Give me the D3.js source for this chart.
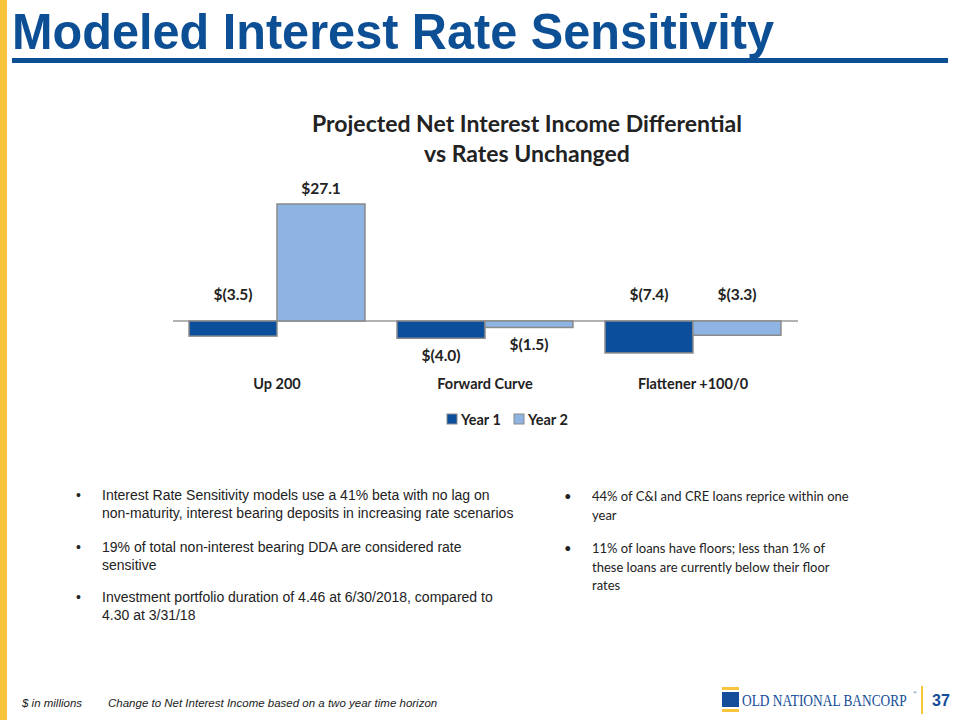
<!DOCTYPE html>
<html><head><meta charset="utf-8">
<script src="https://cdn.jsdelivr.net/npm/d3@7"></script>
<style>body{margin:0;background:#fff}svg{display:block}</style>
</head><body>
<svg id="c" width="960" height="720"></svg>
<script>
const categories = ["Up 200", "Forward Curve", "Flattener +100/0"];
const seriesNames = ["Year 1", "Year 2"];
const year1 = [-3.5, -4.0, -7.4];
const year2 = [27.1, -1.5, -3.3];
const labelText1 = ["$(3.5)", "$(4.0)", "$(7.4)"];
const labelText2 = ["$27.1", "$(1.5)", "$(3.3)"];
const labelSide1 = ["above-axis", "below-bar", "above-axis"];
const labelSide2 = ["above-bar", "below-bar", "above-axis"];
const leftBullets = [
  ["Interest Rate Sensitivity models use a 41% beta with no lag on", "non-maturity, interest bearing deposits in increasing rate scenarios"],
  ["19% of total non-interest bearing DDA are considered rate", "sensitive"],
  ["Investment portfolio duration of 4.46 at 6/30/2018, compared to", "4.30 at 3/31/18"]
];
const rightBullets = [
  ["44% of C&I and CRE loans reprice within one", "year"],
  ["11% of loans have floors; less than 1% of", "these loans are currently below their floor", "rates"]
];

const colors = ["#0b4f9c", "#8db4e2"];
const svg = d3.select("#c");
const navy = "#0d4f94";
const yellow = "#f8c43c";
const calibri = "Lato, 'Open Sans', sans-serif";

// left yellow bar
svg.append("rect").attr("x",0).attr("y",0).attr("width",7).attr("height",720).attr("fill",yellow);

// slide title
svg.append("text").attr("x",12).attr("y",49)
  .attr("font-family","'Liberation Sans Narrow','Arial Narrow','Liberation Sans',Arial,sans-serif")
  .attr("font-weight","bold").attr("font-size",50).attr("fill",navy)
  .attr("textLength",762).attr("lengthAdjust","spacingAndGlyphs")
  .text("Modeled Interest Rate Sensitivity");
svg.append("rect").attr("x",12).attr("y",58).attr("width",936).attr("height",5).attr("fill",navy);

// chart title
const ct = svg.append("text").attr("text-anchor","middle").attr("font-family",calibri)
  .attr("font-weight","bold").attr("font-size",23).attr("fill","#222");
ct.append("tspan").attr("x",527).attr("y",132).text("Projected Net Interest Income Differential");
ct.append("tspan").attr("x",527).attr("y",162).text("vs Rates Unchanged");

// scales
const x0 = d3.scaleBand().domain(categories).range([173, 797]).paddingInner(0.154).paddingOuter(0.077);
const x1 = d3.scaleBand().domain(seriesNames).range([0, x0.bandwidth()]);
const y = d3.scaleLinear().domain([0, 27.1]).range([321, 204]);

const data = categories.map((c,i)=>({cat:c, vals:[
  {s:seriesNames[0], v:year1[i], t:labelText1[i], side:labelSide1[i]},
  {s:seriesNames[1], v:year2[i], t:labelText2[i], side:labelSide2[i]}
]}));

// zero axis line
svg.append("line").attr("x1",173).attr("x2",798).attr("y1",y(0)).attr("y2",y(0))
  .attr("stroke","#9a9a9a").attr("stroke-width",1.5);

const g = svg.selectAll("g.grp").data(data).join("g").attr("class","grp")
  .attr("transform",d=>`translate(${x0(d.cat)},0)`);
g.selectAll("rect").data(d=>d.vals).join("rect")
  .attr("x",d=>x1(d.s)).attr("width",x1.bandwidth())
  .attr("y",d=>Math.min(y(d.v),y(0))).attr("height",d=>Math.abs(y(d.v)-y(0)))
  .attr("fill",(d,i)=>colors[i]).attr("stroke","#8a8a8a").attr("stroke-width",1.5);
g.selectAll("text").data(d=>d.vals).join("text")
  .attr("x",d=>x1(d.s)+x1.bandwidth()/2)
  .attr("y",d=> d.side==="above-axis" ? y(0)-21 : d.side==="above-bar" ? y(d.v)-10 : y(d.v)+23)
  .attr("text-anchor","middle").attr("font-family",calibri).attr("font-weight","bold")
  .attr("font-size",15.5).attr("fill","#222").text(d=>d.t);

// category axis labels
const xAxis = d3.axisBottom(x0).tickSize(0).tickPadding(0);
const ax = svg.append("g").attr("transform","translate(0,380)").call(xAxis);
ax.select(".domain").remove();
ax.selectAll("text").attr("font-family",calibri).attr("font-weight","bold")
  .attr("font-size",14.5).attr("fill","#222").attr("dy","0.6em");

// legend
const leg = svg.append("g").attr("transform","translate(447,414)");
const li = leg.selectAll("g").data(seriesNames).join("g").attr("transform",(d,i)=>`translate(${i*67},0)`);
li.append("rect").attr("width",10).attr("height",10).attr("fill",(d,i)=>colors[i]).attr("stroke","#8a8a8a");
li.append("text").attr("x",14).attr("y",11).attr("font-family",calibri).attr("font-weight","bold")
  .attr("font-size",14.5).attr("fill","#222").text(d=>d);

// left bullets
const lb = svg.append("g").attr("font-family","'Liberation Sans',Arial,sans-serif").attr("font-size",14).attr("fill","#222");
let ly = [500, 552, 602];
leftBullets.forEach((lines,i)=>{
  lb.append("text").attr("x",76).attr("y",ly[i]).text("•");
  lines.forEach((l,j)=>lb.append("text").attr("x",102).attr("y",ly[i]+j*18).text(l));
});
// right bullets
const rb = svg.append("g").attr("font-family",calibri).attr("font-size",13).attr("fill","#222");
let ry = [501, 553];
rightBullets.forEach((lines,i)=>{
  rb.append("text").attr("x",564).attr("y",ry[i]).text("•");
  lines.forEach((l,j)=>rb.append("text").attr("x",592).attr("y",ry[i]+j*18.5).text(l));
});

// footer
const ft = svg.append("g").attr("font-family","'Liberation Sans',Arial,sans-serif").attr("font-style","italic")
  .attr("font-size",11.5).attr("fill","#222");
ft.append("text").attr("x",22).attr("y",707).text("$ in millions");
ft.append("text").attr("x",108).attr("y",707).text("Change to Net Interest Income based on a two year time horizon");

// logo
svg.append("rect").attr("x",722).attr("y",687).attr("width",17).attr("height",3).attr("fill",yellow);
svg.append("rect").attr("x",722).attr("y",692).attr("width",17).attr("height",15).attr("fill","#144d9a");
svg.append("rect").attr("x",722).attr("y",709).attr("width",17).attr("height",3).attr("fill",yellow);
svg.append("text").attr("transform","translate(742,706) scale(1,1.3)")
  .attr("font-family","'Liberation Serif','Times New Roman',serif")
  .attr("font-size",13.4).attr("fill","#144d9a")
  .text("OLD NATIONAL BANCORP");
svg.append("text").attr("x",913).attr("y",694).attr("font-family","'Liberation Serif',serif").attr("font-size",5).attr("fill","#144d9a").text("®");
svg.append("rect").attr("x",921).attr("y",686).attr("width",2).attr("height",28).attr("fill",yellow);
svg.append("text").attr("x",932).attr("y",706).attr("font-family","'Liberation Sans',Arial,sans-serif")
  .attr("font-weight","bold").attr("font-size",16).attr("fill","#144d9a").text("37");
</script>
</body></html>
